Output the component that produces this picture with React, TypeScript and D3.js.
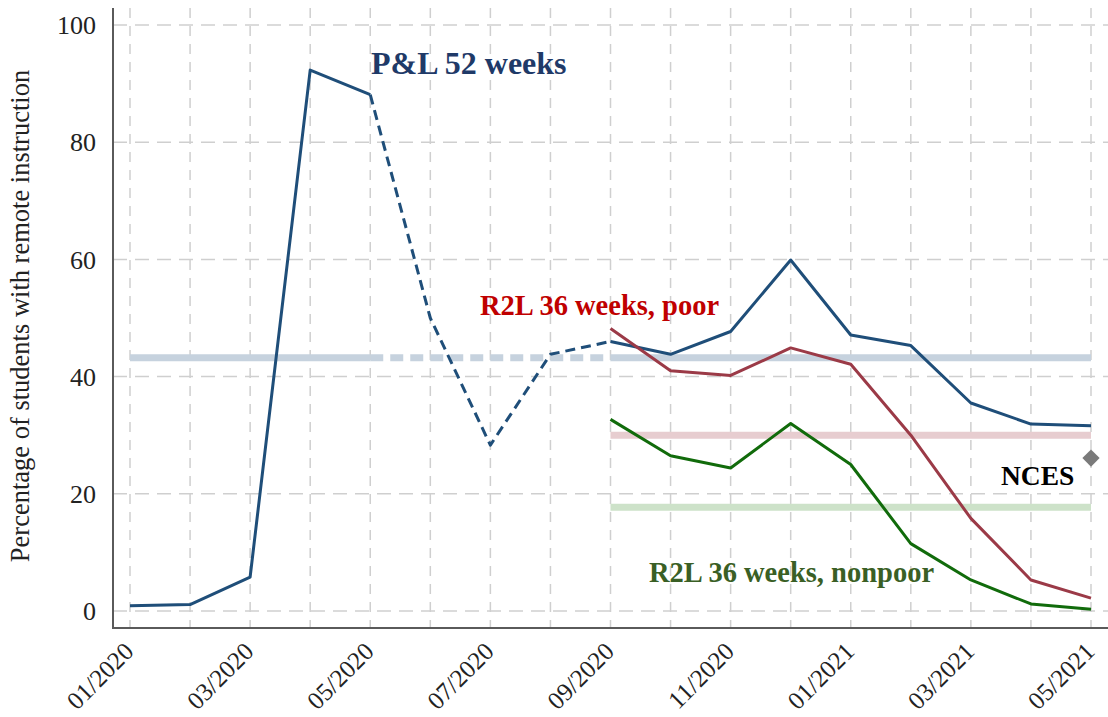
import { useEffect, useRef } from 'react';
import * as d3 from 'd3';

const months = ['01/2020', '02/2020', '03/2020', '04/2020', '05/2020', '06/2020', '07/2020', '08/2020', '09/2020',
  '10/2020', '11/2020', '12/2020', '01/2021', '02/2021', '03/2021', '04/2021', '05/2021'];
const tickLabels = ['01/2020', '03/2020', '05/2020', '07/2020', '09/2020', '11/2020', '01/2021', '03/2021', '05/2021'];
const yTicks = [0, 20, 40, 60, 80, 100];

// P&L 52 weeks, all 17 months
const plValues = [0.9, 1.1, 5.8, 92.3, 88.1, 50.0, 28.3, 43.8, 46.0, 43.8, 47.7, 59.9, 47.1, 45.3, 35.5, 31.9, 31.6];
// R2L 36 weeks, 09/2020 - 05/2021
const poorValues = [48.2, 41.0, 40.2, 44.9, 42.1, 30.0, 15.8, 5.3, 2.2];
const nonpoorValues = [32.7, 26.5, 24.4, 32.0, 25.0, 11.5, 5.3, 1.2, 0.3];
// averages drawn as wide pale lines
const plAverage = 43.2;
const poorAverage = 30.0;
const nonpoorAverage = 17.7;
const ncesValue = 26.1;

const W = 1108;
const H = 717;
const serif = '"Liberation Serif", "Times New Roman", serif';

const App = () => {
  const svgRef = useRef<SVGSVGElement>(null);

  useEffect(() => {
    const svg = d3.select(svgRef.current);
    svg.selectAll('*').remove();

    const x = d3.scaleLinear().domain([0, months.length - 1]).range([130, 1091]);
    const y = d3.scaleLinear().domain([0, 100]).range([611, 25]);
    const left = 113, right = 1108, top = 8, bottom = 628;

    // grid
    const grid = svg.append('g');
    grid.selectAll('line.v').data(months).join('line')
      .attr('x1', (_, i) => x(i)).attr('x2', (_, i) => x(i))
      .attr('y1', top).attr('y2', bottom)
      .attr('stroke', '#cfcfcf').attr('stroke-width', 1.5).attr('stroke-dasharray', '10,8');
    grid.selectAll('line.h').data(yTicks).join('line')
      .attr('x1', left).attr('x2', right)
      .attr('y1', d => y(d)).attr('y2', d => y(d))
      .attr('stroke', '#cfcfcf').attr('stroke-width', 1.5).attr('stroke-dasharray', '14,8');

    // axes
    svg.append('line').attr('x1', left).attr('x2', left).attr('y1', top).attr('y2', bottom)
      .attr('stroke', '#5a5a5a').attr('stroke-width', 2);
    svg.append('line').attr('x1', left - 1).attr('x2', right).attr('y1', bottom).attr('y2', bottom)
      .attr('stroke', '#5a5a5a').attr('stroke-width', 2);

    svg.append('g').selectAll('text').data(yTicks).join('text')
      .attr('x', 96).attr('y', d => y(d)).attr('dy', '0.35em')
      .attr('text-anchor', 'end').attr('font-family', serif).attr('font-size', 26).attr('fill', '#222')
      .text(d => d);

    svg.append('g').selectAll('text').data(tickLabels).join('text')
      .attr('transform', d => `translate(${x(months.indexOf(d)) + 5},${653}) rotate(-45)`)
      .attr('text-anchor', 'end').attr('font-family', serif).attr('font-size', 25).attr('fill', '#222')
      .text(d => d);

    svg.append('text')
      .attr('transform', `translate(29,${(65 + 567) / 2}) rotate(-90)`)
      .attr('text-anchor', 'middle').attr('font-family', serif).attr('font-size', 26.5).attr('fill', '#222')
      .text('Percentage of students with remote instruction');

    const line = d3.line<[number, number]>().x(d => x(d[0])).y(d => y(d[1]));
    const avgLine = (v: number, from: number, to: number, color: string, dash?: string) => {
      svg.append('path')
        .attr('d', line([[from, v], [to, v]]))
        .attr('stroke', color).attr('stroke-width', 7).attr('fill', 'none')
        .attr('stroke-dasharray', dash || null);
    };

    // average reference lines
    const gapStart = 4, gapEnd = 8, r2lStart = 8, last = months.length - 1;
    avgLine(plAverage, 0, gapStart, '#c6d2de');
    avgLine(plAverage, gapStart, gapEnd, '#c6d2de', '13,7');
    avgLine(plAverage, gapEnd, last, '#c6d2de');
    avgLine(poorAverage, r2lStart, last, '#e7cdd0');
    avgLine(nonpoorAverage, r2lStart, last, '#cde2c9');

    const plPts = plValues.map((v, i) => [i, v] as [number, number]);
    const drawSeries = (pts: [number, number][], color: string, dash?: string) => {
      svg.append('path')
        .attr('d', line(pts))
        .attr('stroke', color).attr('stroke-width', 3).attr('fill', 'none')
        .attr('stroke-linejoin', 'round')
        .attr('stroke-dasharray', dash || null);
    };
    drawSeries(plPts.slice(0, gapStart + 1), '#1f4e79');
    drawSeries(plPts.slice(gapStart, gapEnd + 1), '#1f4e79', '10,6');
    drawSeries(plPts.slice(gapEnd), '#1f4e79');
    drawSeries(poorValues.map((v, i) => [i + r2lStart, v] as [number, number]), '#9b3a47');
    drawSeries(nonpoorValues.map((v, i) => [i + r2lStart, v] as [number, number]), '#116b0b');

    // NCES point
    svg.append('path')
      .attr('d', d3.symbol().type(d3.symbolDiamond2).size(190)())
      .attr('transform', `translate(${x(last)},${y(ncesValue)})`)
      .attr('fill', '#7a7a7a');

    const label = (txt: string, lx: number, ly: number, color: string, size: number) => {
      svg.append('text').attr('x', lx).attr('y', ly)
        .attr('font-family', serif).attr('font-weight', 'bold').attr('font-size', size)
        .attr('fill', color).text(txt);
    };
    label('P&L 52 weeks', 371, 74, '#1f3a68', 32);
    label('R2L 36 weeks, poor', 480, 315, '#c00000', 28.5);
    label('NCES', 1001, 485, '#000', 27.5);
    label('R2L 36 weeks, nonpoor', 649, 582, '#3a5f25', 28.5);
  }, []);

  return (
    <svg ref={svgRef} width={W} height={H} viewBox={`0 0 ${W} ${H}`}
      style={{ position: 'absolute', left: 0, top: 0, background: '#fff' }} />
  );
};

export default App;
